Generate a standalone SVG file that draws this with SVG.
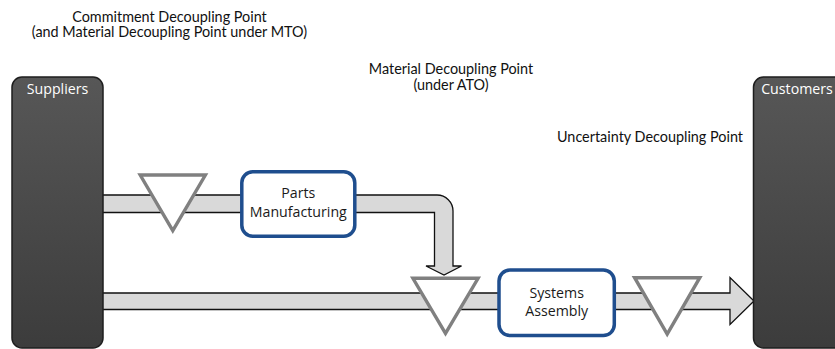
<svg xmlns="http://www.w3.org/2000/svg" width="835" height="349" viewBox="0 0 835 349">
  <defs>
    <linearGradient id="partyFill" x1="0" y1="0" x2="0" y2="1">
      <stop offset="0" stop-color="#575757"/>
      <stop offset="1" stop-color="#3c3c3c"/>
    </linearGradient>
    <style>
      .party { fill: url(#partyFill); stroke: #1e1e1e; stroke-width: 1.5; }
      .party-label { fill: #ffffff; font-family: "Open Sans", "Noto Sans", sans-serif; font-size: 14.2px; text-anchor: middle; }
      .flow { fill: #d9d9d9; stroke: #111111; stroke-width: 1.3; stroke-linejoin: miter; }
      .process { fill: #ffffff; stroke: #1f4e8e; stroke-width: 3.5; }
      .process-label { fill: #1a1a1a; font-family: "Open Sans", "Noto Sans", sans-serif; font-size: 14.2px; text-anchor: middle; }
      .buffer { fill: #ffffff; stroke: #808080; stroke-width: 3.4; stroke-linejoin: miter; }
      .note { fill: #111111; font-family: Lato, "Open Sans", sans-serif; font-size: 14.4px; text-anchor: middle; }
    </style>
  </defs>

  <!-- material flows -->
  <g id="connectors">
    <!-- supplier to parts manufacturing -->
    <path class="flow" d="M 95 195 H 245 V 212.5 H 95 Z"/>
    <!-- parts manufacturing down to assembly buffer -->
    <path class="flow" d="M 350 195 H 437 A 16 16 0 0 1 453 211 V 266 H 461.5 L 444 275 L 426 266 H 434.5 V 212.5 H 350 Z"/>
    <!-- supplier through assembly to customers -->
    <path class="flow" d="M 95 293 H 730 V 277.5 L 754 301 L 730 324.5 V 309.5 H 95 Z"/>
  </g>

  <g id="suppliers">
    <rect class="party" x="12" y="77" width="91" height="271" rx="10"/>
    <text class="party-label" x="57.5" y="94">Suppliers</text>
  </g>

  <g id="customers">
    <rect class="party" x="753.5" y="77" width="91" height="271" rx="10"/>
    <text class="party-label" x="797" y="94">Customers</text>
  </g>

  <g id="buffer-commitment">
    <polygon class="buffer" points="140.2,175 205.4,175 172.8,230.7"/>
  </g>

  <g id="parts-manufacturing">
    <rect class="process" x="241.8" y="171.8" width="113" height="64.5" rx="11"/>
    <text class="process-label" x="298.3" y="198.3">Parts</text>
    <text class="process-label" x="298.3" y="217.3">Manufacturing</text>
  </g>

  <g id="buffer-material">
    <polygon class="buffer" points="412.9,278.3 478.1,278.3 445.5,333.4"/>
  </g>

  <g id="systems-assembly">
    <rect class="process" x="499" y="270" width="115.3" height="65.6" rx="11"/>
    <text class="process-label" x="556.7" y="298.3">Systems</text>
    <text class="process-label" x="556.7" y="315.7">Assembly</text>
  </g>

  <g id="buffer-uncertainty">
    <polygon class="buffer" points="634.6,277.7 699.8,277.7 667.2,334"/>
  </g>

  <!-- decoupling point notes -->
  <g id="note-commitment">
    <text class="note" x="169.5" y="21.5">Commitment Decoupling Point</text>
    <text class="note" x="169.5" y="37">(and Material Decoupling Point under MTO)</text>
  </g>
  <g id="note-material">
    <text class="note" x="451" y="74">Material Decoupling Point</text>
    <text class="note" x="451" y="89.5">(under ATO)</text>
  </g>
  <g id="note-uncertainty">
    <text class="note" x="650" y="141.5">Uncertainty Decoupling Point</text>
  </g>
</svg>
